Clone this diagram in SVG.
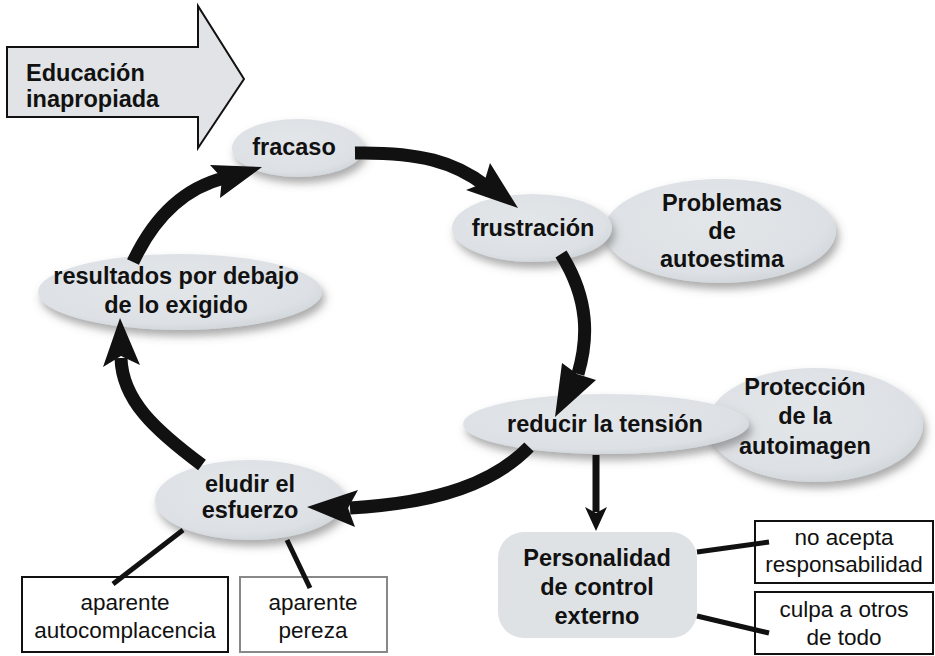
<svg xmlns="http://www.w3.org/2000/svg" width="935" height="656" viewBox="0 0 935 656">
<style>
.b{font-family:"Liberation Sans",Arial,sans-serif;font-weight:bold;font-size:23.5px;fill:#111;text-anchor:middle}
.r{font-family:"Liberation Sans",Arial,sans-serif;font-size:22.5px;fill:#111;text-anchor:middle}
.node{fill:url(#g)}
.shaft{fill:none;stroke:#111;stroke-width:13}
.head{fill:#111}
.thin{stroke:#111;stroke-width:5;fill:none}
.box{fill:#fff;stroke:#111;stroke-width:2}
</style>
<defs>
<radialGradient id="g" cx="0.45" cy="0.4" r="0.6">
<stop offset="0" stop-color="#e3e6e9"/>
<stop offset="0.85" stop-color="#dde1e5"/>
<stop offset="1" stop-color="#d3d8dc"/>
</radialGradient>
<filter id="sh" x="-20%" y="-20%" width="150%" height="160%">
<feDropShadow dx="3" dy="6" stdDeviation="4" flood-color="#555" flood-opacity="0.5"/>
</filter>
</defs>
<rect width="935" height="656" fill="#fff"/>

<g id="educacion">
<polygon points="7,47 198,47 198,6 244,79 198,148 198,117 7,117" fill="#e1e3e6" stroke="#111" stroke-width="2"/>
<text class="b" x="26" y="81" style="text-anchor:start">Educación</text>
<text class="b" x="26" y="107" style="text-anchor:start">inapropiada</text>
</g>

<g id="problemas">
<ellipse class="node" cx="720" cy="231" rx="116" ry="52" filter="url(#sh)"/>
<text class="b" x="722" y="211">Problemas</text>
<text class="b" x="722" y="239">de</text>
<text class="b" x="722" y="267">autoestima</text>
</g>

<g id="proteccion">
<ellipse class="node" cx="815" cy="425" rx="108" ry="57" filter="url(#sh)"/>
<text class="b" x="805" y="395">Protección</text>
<text class="b" x="805" y="424">de la</text>
<text class="b" x="805" y="454">autoimagen</text>
</g>

<g id="fracaso">
<ellipse class="node" cx="298" cy="148" rx="66" ry="29" filter="url(#sh)"/>
<text class="b" x="294" y="155">fracaso</text>
</g>

<g id="frustracion">
<ellipse class="node" cx="532" cy="228" rx="80" ry="34" filter="url(#sh)"/>
<text class="b" x="533" y="236">frustración</text>
</g>

<g id="resultados">
<ellipse class="node" cx="180" cy="292" rx="142" ry="38" filter="url(#sh)"/>
<text class="b" x="176" y="284">resultados por debajo</text>
<text class="b" x="176" y="313">de lo exigido</text>
</g>

<g id="reducir">
<ellipse class="node" cx="606" cy="424" rx="143" ry="30" filter="url(#sh)"/>
<text class="b" x="605" y="432">reducir la tensión</text>
</g>

<g id="eludir">
<ellipse class="node" cx="250" cy="500" rx="95" ry="40" filter="url(#sh)"/>
<text class="b" x="250" y="492">eludir el</text>
<text class="b" x="250" y="518">esfuerzo</text>
</g>

<g id="personalidad">
<rect x="498" y="532" width="199" height="106" rx="26" fill="#dfe2e5"/>
<text class="b" x="597" y="566">Personalidad</text>
<text class="b" x="597" y="595">de control</text>
<text class="b" x="597" y="624">externo</text>
</g>

<g id="noacepta">
<rect class="box" x="755" y="521" width="178" height="62"/>
<text class="r" x="844" y="545">no acepta</text>
<text class="r" x="844" y="572">responsabilidad</text>
</g>

<g id="culpa">
<rect class="box" x="755" y="592" width="178" height="62"/>
<text class="r" x="844" y="617">culpa a otros</text>
<text class="r" x="844" y="645">de todo</text>
</g>

<g id="autocomplacencia">
<rect class="box" x="22" y="577" width="206" height="75"/>
<text class="r" x="125" y="610">aparente</text>
<text class="r" x="125" y="638">autocomplacencia</text>
</g>

<g id="pereza">
<rect class="box" x="240" y="577" width="147" height="75" style="stroke:#888"/>
<text class="r" x="313" y="610">aparente</text>
<text class="r" x="313" y="638">pereza</text>
</g>

<g id="connectors">
<path class="shaft" d="M355,153 C420,152 455,162 486,186"/>
<polygon class="head" points="490,163 518,208 466,190 484,183"/>

<path class="shaft" d="M561,254 C590,300 588,340 578,374"/>
<polygon class="head" points="562,363 555,417 596,380 577,374"/>

<path class="shaft" d="M529,447 C495,482 440,503 350,508"/>
<polygon class="head" points="358,490 307,507 355,527 348,508"/>

<path class="shaft" d="M202,465 C155,430 122,400 121,358"/>
<polygon class="head" points="103,367 120,318 140,365 121,356"/>

<path class="shaft" d="M133,262 C155,215 185,188 224,178"/>
<polygon class="head" points="210,165 262,167 220,198 222,178"/>

<line x1="596" y1="455" x2="596" y2="512" stroke="#111" stroke-width="7"/>
<polygon class="head" points="585,507 596,531 607,507 596,513"/>

<line class="thin" x1="183" y1="530" x2="113" y2="584"/>
<line class="thin" x1="287" y1="540" x2="310" y2="588"/>
<line class="thin" x1="697" y1="552" x2="769" y2="542"/>
<line class="thin" x1="697" y1="616" x2="769" y2="633"/>
</g>
</svg>
